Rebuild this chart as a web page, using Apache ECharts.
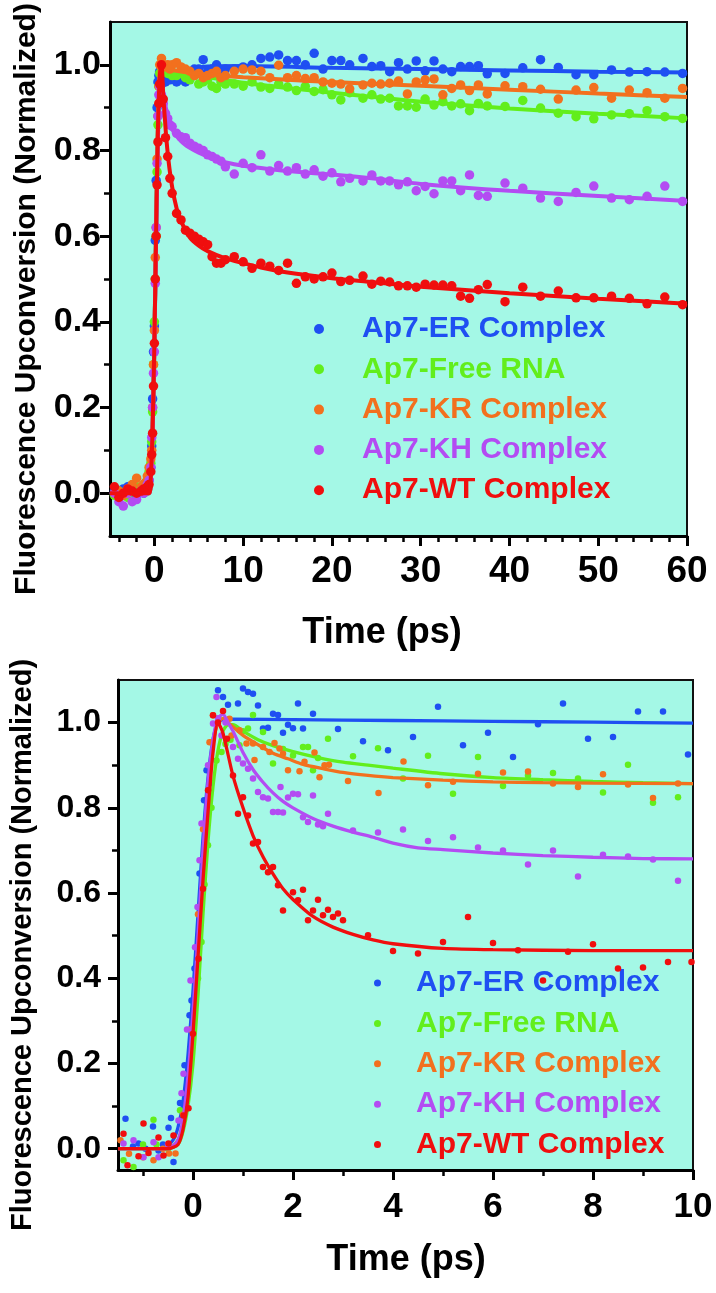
<!DOCTYPE html>
<html><head><meta charset="utf-8">
<script src="https://cdn.jsdelivr.net/npm/echarts@6/dist/echarts.min.js"></script>
<style>html,body{margin:0;padding:0;background:#fff}#c{width:716px;height:1293px}</style>
</head><body><div id="c"></div>
<script>
// ---------- names & colours ----------
const seriesNames = ['Ap7-ER Complex','Ap7-Free RNA','Ap7-KR Complex','Ap7-KH Complex','Ap7-WT Complex'];
const seriesColors = ['#1f4ff2','#62ee1c','#f2701e','#b34cf2','#f00e0e'];

// ---------- top panel (0-60 ps) ----------
const topTimes = [-4.5,-4,-3.5,-3,-2.5,-2,-1.5,-1.2,-1,-0.8,-0.6,-0.4,-0.3,-0.2,-0.1,
  0,0.1,0.2,0.3,0.4,0.5,0.6,
  0.8,1,1.25,1.5,1.75,2,
  2.5,3,3.5,4,4.5,5,5.5,6,6.5,7,7.5,8,
  9,10,11,12,13,14,15,16,17,18,19,20,21,22,
  23.5,24.5,25.5,26.5,27.5,28.5,29.5,30.5,31.5,32.5,33.5,34.5,35.5,36.5,37.5,
  39.5,41.5,43.5,45.5,47.5,49.5,51.5,53.5,55.5,57.5,59.5];
const topER = [0.005,-0.01,0.01,0.015,0.0,-0.005,0.01,0.0,0.015,0.02,0.03,0.06,0.11,0.22,0.33,
  0.39,0.59,0.73,0.9,0.96,0.975,0.985,
  0.955,0.96,0.96,0.965,0.965,0.97,
  0.96,0.965,0.96,0.975,0.99,0.99,1.012,0.985,0.99,1.0,0.985,0.99,
  0.99,0.995,1.0,1.015,1.018,1.023,1.01,1.01,1.0,1.027,0.99,1.01,1.01,1.0,
  1.015,0.996,0.998,0.984,1.005,0.99,1.009,0.986,1.009,0.99,0.984,0.996,0.996,0.998,0.979,
  0.98,0.993,1.012,0.994,0.977,0.977,0.988,0.983,0.984,0.983,0.98];
const topFree = [-0.005,0.005,0.0,-0.01,0.01,0.015,0.01,0.02,0.015,0.03,0.05,0.07,0.12,0.19,0.3,
  0.4,0.5,0.6,0.75,0.86,0.95,0.98,
  0.985,0.99,0.995,0.98,0.985,0.975,
  0.975,0.98,0.97,0.965,0.975,0.955,0.96,0.965,0.95,0.945,0.96,0.955,
  0.955,0.95,0.96,0.948,0.945,0.955,0.948,0.94,0.95,0.938,0.942,0.93,0.918,0.935,
  0.922,0.930,0.920,0.922,0.904,0.904,0.901,0.920,0.906,0.914,0.904,0.909,0.893,0.910,0.904,
  0.903,0.917,0.899,0.887,0.879,0.874,0.883,0.886,0.893,0.879,0.875];
const topKR = [0.0,0.005,-0.005,0.01,0.02,0.035,0.015,0.02,0.025,0.04,0.06,0.08,0.1,0.2,0.3,
  0.38,0.55,0.62,0.78,0.88,0.95,1.0,
  1.015,1.0,0.995,1.0,0.99,1.0,
  1.005,0.995,0.99,0.985,0.975,0.98,0.97,0.975,0.98,0.985,0.97,0.975,
  0.985,0.99,0.988,0.985,0.97,0.999,0.97,0.975,0.968,0.97,0.96,0.957,0.955,0.944,
  0.953,0.957,0.955,0.957,0.962,0.932,0.96,0.965,0.967,0.93,0.945,0.953,0.94,0.953,0.932,
  0.951,0.949,0.943,0.92,0.941,0.947,0.922,0.941,0.935,0.922,0.945];
const topKH = [0.0,-0.02,-0.03,0.0,-0.02,-0.015,0.005,0.0,0.01,0.02,0.03,0.06,0.13,0.2,0.28,
  0.33,0.49,0.62,0.77,0.88,0.93,0.95,
  0.93,0.91,0.887,0.875,0.86,0.856,
  0.84,0.832,0.83,0.817,0.81,0.805,0.8,0.79,0.786,0.78,0.775,0.762,
  0.745,0.77,0.76,0.79,0.752,0.765,0.752,0.76,0.745,0.755,0.74,0.748,0.727,0.735,
  0.729,0.743,0.729,0.729,0.72,0.727,0.706,0.716,0.699,0.729,0.729,0.706,0.743,0.695,0.693,
  0.724,0.712,0.689,0.681,0.702,0.717,0.689,0.685,0.693,0.717,0.681];
const topWT = [0.015,-0.01,0.0,0.01,0.005,0.0,0.005,0.01,0.01,0.015,0.02,0.05,0.09,0.14,0.25,
  0.35,0.5,0.6,0.72,0.82,0.91,0.955,
  1.0,0.92,0.83,0.786,0.735,0.70,
  0.653,0.638,0.614,0.607,0.60,0.593,0.587,0.58,0.552,0.537,0.537,0.545,
  0.552,0.54,0.525,0.537,0.53,0.52,0.537,0.49,0.505,0.5,0.505,0.514,0.494,0.497,
  0.507,0.488,0.495,0.493,0.484,0.484,0.481,0.488,0.486,0.486,0.484,0.46,0.455,0.475,0.487,
  0.447,0.481,0.46,0.472,0.456,0.456,0.46,0.455,0.442,0.458,0.44];

// fitted curves, top panel ([time, value])
const topFitER = [[-5,0],[-0.6,0],[-0.4,0.04],[-0.2,0.15],[0,0.35],[0.2,0.62],[0.4,0.85],[0.6,0.975],[0.8,0.985],[1.0,0.975],[2,0.978],[4,0.99],[6,0.996],[10,0.997],[20,0.993],[30,0.99],[40,0.987],[50,0.984],[60,0.982]];
const topFitFree = [[-5,0],[-0.6,0],[-0.4,0.04],[-0.2,0.15],[0,0.35],[0.2,0.62],[0.4,0.85],[0.6,0.97],[0.8,0.99],[1.5,0.99],[3,0.982],[5,0.975],[10,0.958],[15,0.946],[20,0.935],[30,0.914],[40,0.898],[50,0.886],[60,0.875]];
const topFitKR = [[-5,0],[-0.6,0],[-0.4,0.04],[-0.2,0.15],[0,0.35],[0.2,0.62],[0.4,0.86],[0.6,0.99],[0.8,1.005],[1.2,0.995],[2,0.988],[5,0.979],[10,0.971],[15,0.965],[20,0.96],[30,0.951],[40,0.942],[50,0.933],[60,0.925]];
const topFitKH = [[-5,0],[-0.6,0],[-0.4,0.04],[-0.2,0.15],[0,0.35],[0.2,0.6],[0.4,0.82],[0.6,0.93],[0.8,0.95],[1.0,0.93],[1.4,0.89],[2,0.85],[3,0.822],[4,0.806],[5,0.795],[7,0.778],[9,0.768],[12,0.759],[15,0.752],[20,0.744],[25,0.734],[30,0.722],[40,0.706],[50,0.694],[60,0.682]];
const topFitWT = [[-5,0],[-0.6,0],[-0.4,0.04],[-0.2,0.15],[0,0.35],[0.2,0.62],[0.4,0.85],[0.6,0.97],[0.8,1.0],[1.0,0.93],[1.3,0.84],[1.6,0.775],[2.0,0.715],[2.5,0.665],[3,0.635],[4,0.597],[5,0.578],[6,0.565],[8,0.548],[10,0.537],[12,0.527],[15,0.515],[20,0.502],[25,0.492],[30,0.482],[40,0.467],[50,0.454],[60,0.442]];

// ---------- bottom panel (0-10 ps) ----------
const botER = [[-1.35,0.070],[-1.2,0.005],[-1.09,0.012],[-0.95,0.0],[-0.8,0.052],[-0.69,-0.004],[-0.6,0.01],[-0.49,0.049],[-0.44,0.072],[-0.39,-0.031],[-0.26,0.107],[-0.17,0.196],[-0.07,0.313],[-0.03,0.348],[0.03,0.423],[0.13,0.646],[0.22,0.818],[0.27,0.888],[0.33,0.857],[0.5,1.076],[0.6,1.06],[0.7,1.042],[0.9,1.045],[1.0,1.08],[1.1,1.072],[1.2,1.068],[1.3,1.04],[1.4,0.986],[1.5,0.988],[1.6,1.021],[1.7,1.018],[1.8,0.976],[1.9,0.995],[2.0,0.987],[2.1,1.045],[2.2,0.986],[2.4,1.021],[2.9,0.985],[3.4,0.956],[3.9,0.935],[4.4,0.966],[4.9,1.037],[5.4,0.947],[5.9,0.976],[6.4,0.919],[6.9,0.996],[7.4,1.045],[7.9,0.962],[8.4,0.966],[8.9,1.026],[9.4,1.026],[9.9,0.925]];
const botFree = [[-1.39,-0.027],[-1.19,-0.043],[-1.0,0.01],[-0.79,0.068],[-0.73,0.01],[-0.5,0.0],[-0.26,0.09],[0.1,0.4],[0.17,0.485],[0.23,0.62],[0.3,0.712],[0.37,0.8],[0.47,0.911],[0.57,0.931],[0.65,0.95],[0.75,0.96],[0.93,0.947],[1.0,0.98],[1.1,0.986],[1.2,1.018],[1.4,0.978],[1.6,0.904],[1.8,0.938],[2.0,0.923],[2.2,0.943],[2.3,0.943],[2.4,0.888],[2.5,0.917],[2.7,0.962],[3.2,0.921],[3.7,0.940],[4.2,0.869],[4.7,0.922],[5.2,0.833],[5.7,0.919],[6.2,0.851],[6.7,0.876],[7.2,0.882],[7.7,0.869],[8.2,0.836],[8.7,0.901],[9.2,0.812],[9.7,0.825]];
const botKR = [[-1.45,0.02],[-1.28,-0.012],[-1.0,-0.02],[-0.79,-0.027],[-0.6,0.0],[-0.48,-0.011],[-0.35,-0.011],[-0.2,0.08],[-0.05,0.28],[0.1,0.55],[0.2,0.75],[0.33,0.954],[0.37,0.954],[0.4,1.017],[0.73,1.009],[0.77,0.970],[0.93,0.982],[1.07,0.951],[1.2,0.951],[1.23,0.912],[1.4,0.943],[1.53,0.931],[1.63,0.952],[1.73,0.939],[1.8,0.927],[1.9,0.888],[2.13,0.886],[2.23,0.908],[2.43,0.930],[2.53,0.872],[2.63,0.9],[2.72,0.901],[3.1,0.863],[3.71,0.835],[4.21,0.909],[4.7,0.853],[5.2,0.861],[5.7,0.880],[6.2,0.883],[6.7,0.885],[7.2,0.857],[7.7,0.849],[8.2,0.879],[8.7,0.855],[9.2,0.823],[9.7,0.857]];
const botKH = [[-1.39,0.012],[-1.19,0.02],[-0.99,-0.02],[-0.79,0.015],[-0.69,-0.02],[-0.5,0.01],[-0.29,0.066],[-0.23,0.13],[-0.19,0.176],[-0.12,0.28],[-0.05,0.395],[0.04,0.473],[0.09,0.567],[0.13,0.677],[0.17,0.763],[0.3,0.9],[0.4,0.998],[0.47,1.06],[0.5,1.01],[0.57,0.97],[0.65,1.0],[0.8,0.943],[0.9,0.915],[1.0,0.904],[1.1,0.892],[1.2,0.869],[1.3,0.837],[1.4,0.825],[1.5,0.822],[1.6,0.79],[1.7,0.79],[1.75,0.849],[1.8,0.789],[1.9,0.824],[2.0,0.833],[2.1,0.832],[2.2,0.778],[2.3,0.767],[2.4,0.829],[2.5,0.761],[2.6,0.757],[2.7,0.786],[3.2,0.747],[3.7,0.742],[4.2,0.749],[4.7,0.722],[5.2,0.731],[5.7,0.707],[6.2,0.7],[6.7,0.667],[7.2,0.7],[7.7,0.639],[8.2,0.69],[8.7,0.686],[9.2,0.679],[9.7,0.629]];
const botWT = [[-1.39,0.035],[-1.31,-0.039],[-1.09,-0.018],[-0.99,0.059],[-0.89,-0.01],[-0.69,0.026],[-0.59,-0.016],[-0.49,0.012],[-0.39,0.031],[-0.19,0.078],[-0.09,0.095],[0.0,0.27],[0.11,0.446],[0.2,0.61],[0.3,0.841],[0.4,1.017],[0.5,1.0],[0.6,1.027],[0.68,0.962],[0.8,0.876],[0.9,0.786],[1.0,0.825],[1.1,0.782],[1.2,0.716],[1.3,0.72],[1.4,0.661],[1.5,0.649],[1.6,0.661],[1.7,0.618],[1.8,0.559],[2.0,0.602],[2.1,0.583],[2.2,0.608],[2.3,0.536],[2.4,0.559],[2.5,0.584],[2.6,0.548],[2.7,0.561],[2.8,0.544],[2.9,0.552],[3.0,0.536],[3.5,0.501],[4.0,0.464],[4.5,0.458],[5.0,0.485],[5.5,0.544],[6.0,0.483],[6.5,0.466],[7.0,0.395],[7.5,0.462],[8.0,0.48],[8.5,0.423],[9.0,0.425],[9.5,0.438],[9.97,0.438]];

const botFitER = [[-1.5,0],[-0.6,0],[-0.4,0.02],[-0.3,0.05],[-0.2,0.11],[-0.1,0.22],[0,0.37],[0.1,0.55],[0.2,0.73],[0.3,0.87],[0.4,0.96],[0.5,1.0],[0.6,1.007],[0.8,1.008],[2,1.007],[4,1.005],[6,1.003],[8,1.001],[10,0.999]];
const botFitFree = [[-1.5,0],[-0.5,0],[-0.3,0.01],[-0.2,0.04],[-0.1,0.1],[0,0.2],[0.1,0.36],[0.2,0.55],[0.3,0.72],[0.4,0.85],[0.5,0.935],[0.6,0.98],[0.7,0.995],[0.8,0.995],[1.0,0.98],[1.3,0.96],[1.6,0.946],[2.0,0.932],[2.5,0.918],[3.0,0.907],[3.5,0.9],[4.0,0.893],[5,0.88],[6,0.871],[7,0.866],[8,0.862],[9,0.859],[10,0.857]];
const botFitKR = [[-1.5,0],[-0.5,0],[-0.3,0.02],[-0.2,0.06],[-0.1,0.15],[0,0.3],[0.1,0.48],[0.2,0.67],[0.3,0.84],[0.4,0.95],[0.5,1.0],[0.6,1.01],[0.7,1.0],[0.85,0.985],[1.0,0.97],[1.3,0.948],[1.6,0.928],[1.9,0.915],[2.2,0.902],[2.6,0.892],[3.0,0.883],[3.5,0.876],[4.0,0.871],[5,0.865],[6,0.861],[7,0.859],[8,0.858],[10,0.857]];
const botFitKH = [[-1.5,0],[-0.5,0],[-0.3,0.02],[-0.2,0.07],[-0.1,0.17],[0,0.32],[0.1,0.5],[0.2,0.7],[0.3,0.86],[0.4,0.96],[0.5,1.01],[0.6,1.02],[0.7,1.0],[0.8,0.98],[1.0,0.93],[1.2,0.89],[1.4,0.86],[1.6,0.835],[1.8,0.815],[2.0,0.8],[2.4,0.775],[2.8,0.757],[3.2,0.743],[3.6,0.731],[4.0,0.717],[4.5,0.706],[5,0.702],[6,0.694],[7,0.688],[8,0.684],[9,0.681],[10,0.68]];
const botFitWT = [[-1.5,0],[-0.5,0],[-0.3,0.01],[-0.2,0.045],[-0.1,0.12],[0,0.27],[0.1,0.45],[0.2,0.63],[0.3,0.79],[0.4,0.93],[0.5,1.0],[0.6,0.975],[0.8,0.875],[1.0,0.8],[1.2,0.735],[1.4,0.685],[1.6,0.645],[1.8,0.61],[2.0,0.585],[2.4,0.545],[2.8,0.52],[3.2,0.503],[3.6,0.49],[4.0,0.481],[5,0.47],[6,0.467],[8,0.465],[10,0.465]];

// ---------- tick values ----------
const topXMajor = [0,10,20,30,40,50,60];
const topXMinor = [-4,-2,2,4,6,8,12,14,16,18,22,24,26,28,32,34,36,38,42,44,46,48,52,54,56,58];
const topYMajor = [0,0.2,0.4,0.6,0.8,1.0];
const topYMinor = [0.1,0.3,0.5,0.7,0.9];
const botXMajor = [0,2,4,6,8,10];
const botXMinor = [-1,1,3,5,7,9];
const botYMajor = [0,0.2,0.4,0.6,0.8,1.0];
const botYMinor = [0.1,0.3,0.5,0.7,0.9];

// ---------- build ----------
const FONT = '"Liberation Sans", Arial, Helvetica, sans-serif';
const BG = '#a4f8e6';

function axisPair(isX, grid, min, max, majors, minors, fontSize, margin, fmt) {
  const major = {
    type: 'value', gridIndex: grid, min: min, max: max,
    axisLine: {show: true, onZero: false, lineStyle: {color: '#000', width: 3}},
    axisTick: {show: true, inside: false, length: 10, customValues: majors, lineStyle: {color: '#000', width: 3}},
    axisLabel: {show: true, customValues: majors, margin: margin, color: '#000', fontSize: fontSize, fontWeight: 'bold', fontFamily: FONT, formatter: fmt},
    splitLine: {show: false}
  };
  const minor = {
    type: 'value', gridIndex: grid, min: min, max: max,
    axisLine: {show: false, onZero: false},
    axisTick: {show: true, inside: false, length: 6, customValues: minors, lineStyle: {color: '#000', width: 2.5}},
    axisLabel: {show: false},
    splitLine: {show: false}
  };
  if (isX) { major.position = 'bottom'; minor.position = 'bottom'; }
  else { major.position = 'left'; minor.position = 'left'; }
  return [major, minor];
}

const fmtInt = v => String(Math.round(v));
const fmt1 = v => v.toFixed(1);

const xAxes = [
  ...axisPair(true, 0, -5, 60, topXMajor, topXMinor, 37, 17, fmtInt),
  ...axisPair(true, 1, -1.5, 10, botXMajor, botXMinor, 35, 20, fmtInt)
];
const yAxes = [
  ...axisPair(false, 0, -0.1, 1.1, topYMajor, topYMinor, 34, 9, fmt1),
  ...axisPair(false, 1, -0.05, 1.1, botYMajor, botYMinor, 32, 17, fmt1)
];

const topPts = [topER, topFree, topKR, topKH, topWT];
const topFits = [topFitER, topFitFree, topFitKR, topFitKH, topFitWT];
const botPts = [botER, botFree, botKR, botKH, botWT];
const botFits = [botFitER, botFitFree, botFitKR, botFitKH, botFitWT];

const series = [];
seriesNames.forEach((name, i) => {
  series.push({
    type: 'scatter', name: name, xAxisIndex: 0, yAxisIndex: 0,
    symbol: 'circle', symbolSize: 9.5, itemStyle: {color: seriesColors[i], opacity: 1},
    data: topTimes.map((t, k) => [t, topPts[i][k]]), z: 2 + i * 2
  });
  series.push({
    type: 'line', name: name + ' fit', xAxisIndex: 0, yAxisIndex: 0,
    showSymbol: false, smooth: 0.25, lineStyle: {color: seriesColors[i], width: 4},
    itemStyle: {color: seriesColors[i]}, data: topFits[i], z: 3 + i * 2
  });
});
seriesNames.forEach((name, i) => {
  series.push({
    type: 'scatter', name: name, xAxisIndex: 2, yAxisIndex: 2,
    symbol: 'circle', symbolSize: 6.5, itemStyle: {color: seriesColors[i], opacity: 1},
    data: botPts[i], z: 2 + i * 2
  });
  series.push({
    type: 'line', name: name + ' fit', xAxisIndex: 2, yAxisIndex: 2,
    showSymbol: false, smooth: 0.25, lineStyle: {color: seriesColors[i], width: 3.3},
    itemStyle: {color: seriesColors[i]}, data: botFits[i], z: 3 + i * 2
  });
});

function legendCfg(left, top, w, h, gap) {
  return {
    orient: 'vertical', left: left, top: top, itemWidth: w, itemHeight: h, itemGap: gap,
    icon: 'circle', selectedMode: false, padding: 0,
    textStyle: {fontSize: 30, fontWeight: 'bold', fontFamily: FONT, lineHeight: 30},
    data: seriesNames.map((n, i) => ({name: n, textStyle: {color: seriesColors[i]}}))
  };
}

function title(text, x, y, size, rot) {
  return {
    type: 'text', x: x, y: y, rotation: rot || 0, silent: true,
    style: {text: text, fill: '#000', fontSize: size, fontWeight: 'bold', fontFamily: FONT,
      align: 'center', verticalAlign: 'middle', textAlign: 'center', textVerticalAlign: 'middle'}
  };
}

const chart = echarts.init(document.getElementById('c'), null, {renderer: 'canvas'});
chart.setOption({
  animation: false,
  backgroundColor: '#ffffff',
  grid: [
    {left: 110, top: 22, width: 577, height: 514, show: true, backgroundColor: BG, borderColor: '#111', borderWidth: 2, containLabel: false},
    {left: 118, top: 680, width: 575, height: 490, show: true, backgroundColor: BG, borderColor: '#111', borderWidth: 2, containLabel: false}
  ],
  xAxis: xAxes,
  yAxis: yAxes,
  legend: [legendCfg(314, 314, 76, 10, 10.3), legendCfg(374, 968, 67, 7, 10.4)],
  graphic: [
    title('Fluorescence Upconversion (Normalized)', 27, 299, 30, Math.PI / 2),
    title('Fluorescence Upconversion (Normalized)', 23, 945, 29, Math.PI / 2),
    title('Time (ps)', 382, 633, 36),
    title('Time (ps)', 406, 1260, 36)
  ],
  series: series
});
</script>
</body></html>
